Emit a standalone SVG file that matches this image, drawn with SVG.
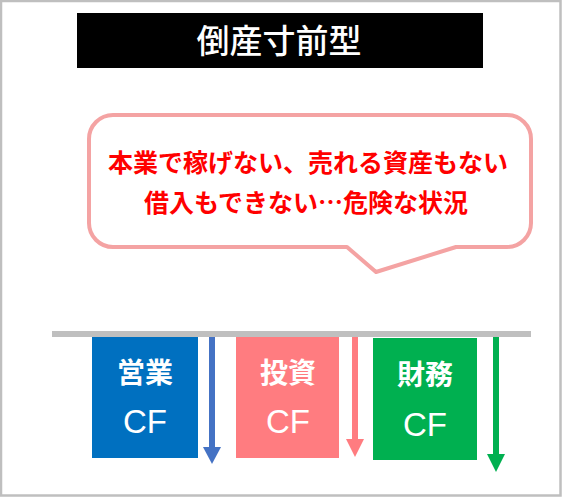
<svg xmlns="http://www.w3.org/2000/svg" width="562" height="497" viewBox="0 0 562 497">
<style>
.jp{font-family:"Noto Sans CJK JP","Noto Sans",sans-serif;font-weight:bold;text-anchor:middle}
.ttl{font-weight:500;fill:#fff;font-size:33px}
.msg{fill:#FF0000;font-size:25px}
.cf{font-family:"Liberation Sans","Noto Sans",sans-serif;text-anchor:middle;fill:#fff;font-size:33px}
.lbl{fill:#fff;font-size:28px}
</style>
<rect x="1" y="1" width="559.5" height="494.5" fill="#fff" stroke="#BFBFBF" stroke-width="2.5"/>
<g id="title">
<rect x="77" y="13" width="406" height="55" fill="#000"/>
<text class="jp ttl" x="279" y="53">倒産寸前型</text>
</g>
<g id="bubble">
<path d="M113,115 H507 A24,24 0 0 1 531,139 V223 A24,24 0 0 1 507,247 H456 L376,272 L347,247 H113 A24,24 0 0 1 89,223 V139 A24,24 0 0 1 113,115 Z" fill="#fff" stroke="#F4A3A3" stroke-width="4" stroke-linejoin="round"/>
<text class="jp msg" x="308" y="172">本業で稼げない、売れる資産もない</text>
<text class="jp msg" x="306" y="212">借入もできない…危険な状況</text>
</g>
<g id="baseline">
<rect x="52" y="331" width="479" height="6" fill="#BFBFBF"/>
</g>
<g id="operating">
<rect x="92" y="337" width="106" height="121" fill="#0070C0"/>
<text class="jp lbl" x="145" y="383">営業</text>
<text class="cf" x="145" y="433">CF</text>
</g>
<g id="investing">
<rect x="236" y="337" width="103" height="121" fill="#FF7C80"/>
<text class="jp lbl" x="288" y="383">投資</text>
<text class="cf" x="288" y="433">CF</text>
</g>
<g id="financing">
<rect x="373" y="338" width="104" height="122" fill="#00B050"/>
<text class="jp lbl" x="425" y="385">財務</text>
<text class="cf" x="425" y="436">CF</text>
</g>
<g id="connectors">
<rect x="209" y="337" width="6" height="110" fill="#4472C4"/>
<polygon points="203,447 221,447 212,464" fill="#4472C4"/>
<rect x="352" y="337" width="6" height="102" fill="#FF7C80"/>
<polygon points="346,439 364,439 355,457" fill="#FF7C80"/>
<rect x="493" y="337" width="6" height="117" fill="#00B050"/>
<polygon points="487,454 505,454 496,472" fill="#00B050"/>
</g>
</svg>
